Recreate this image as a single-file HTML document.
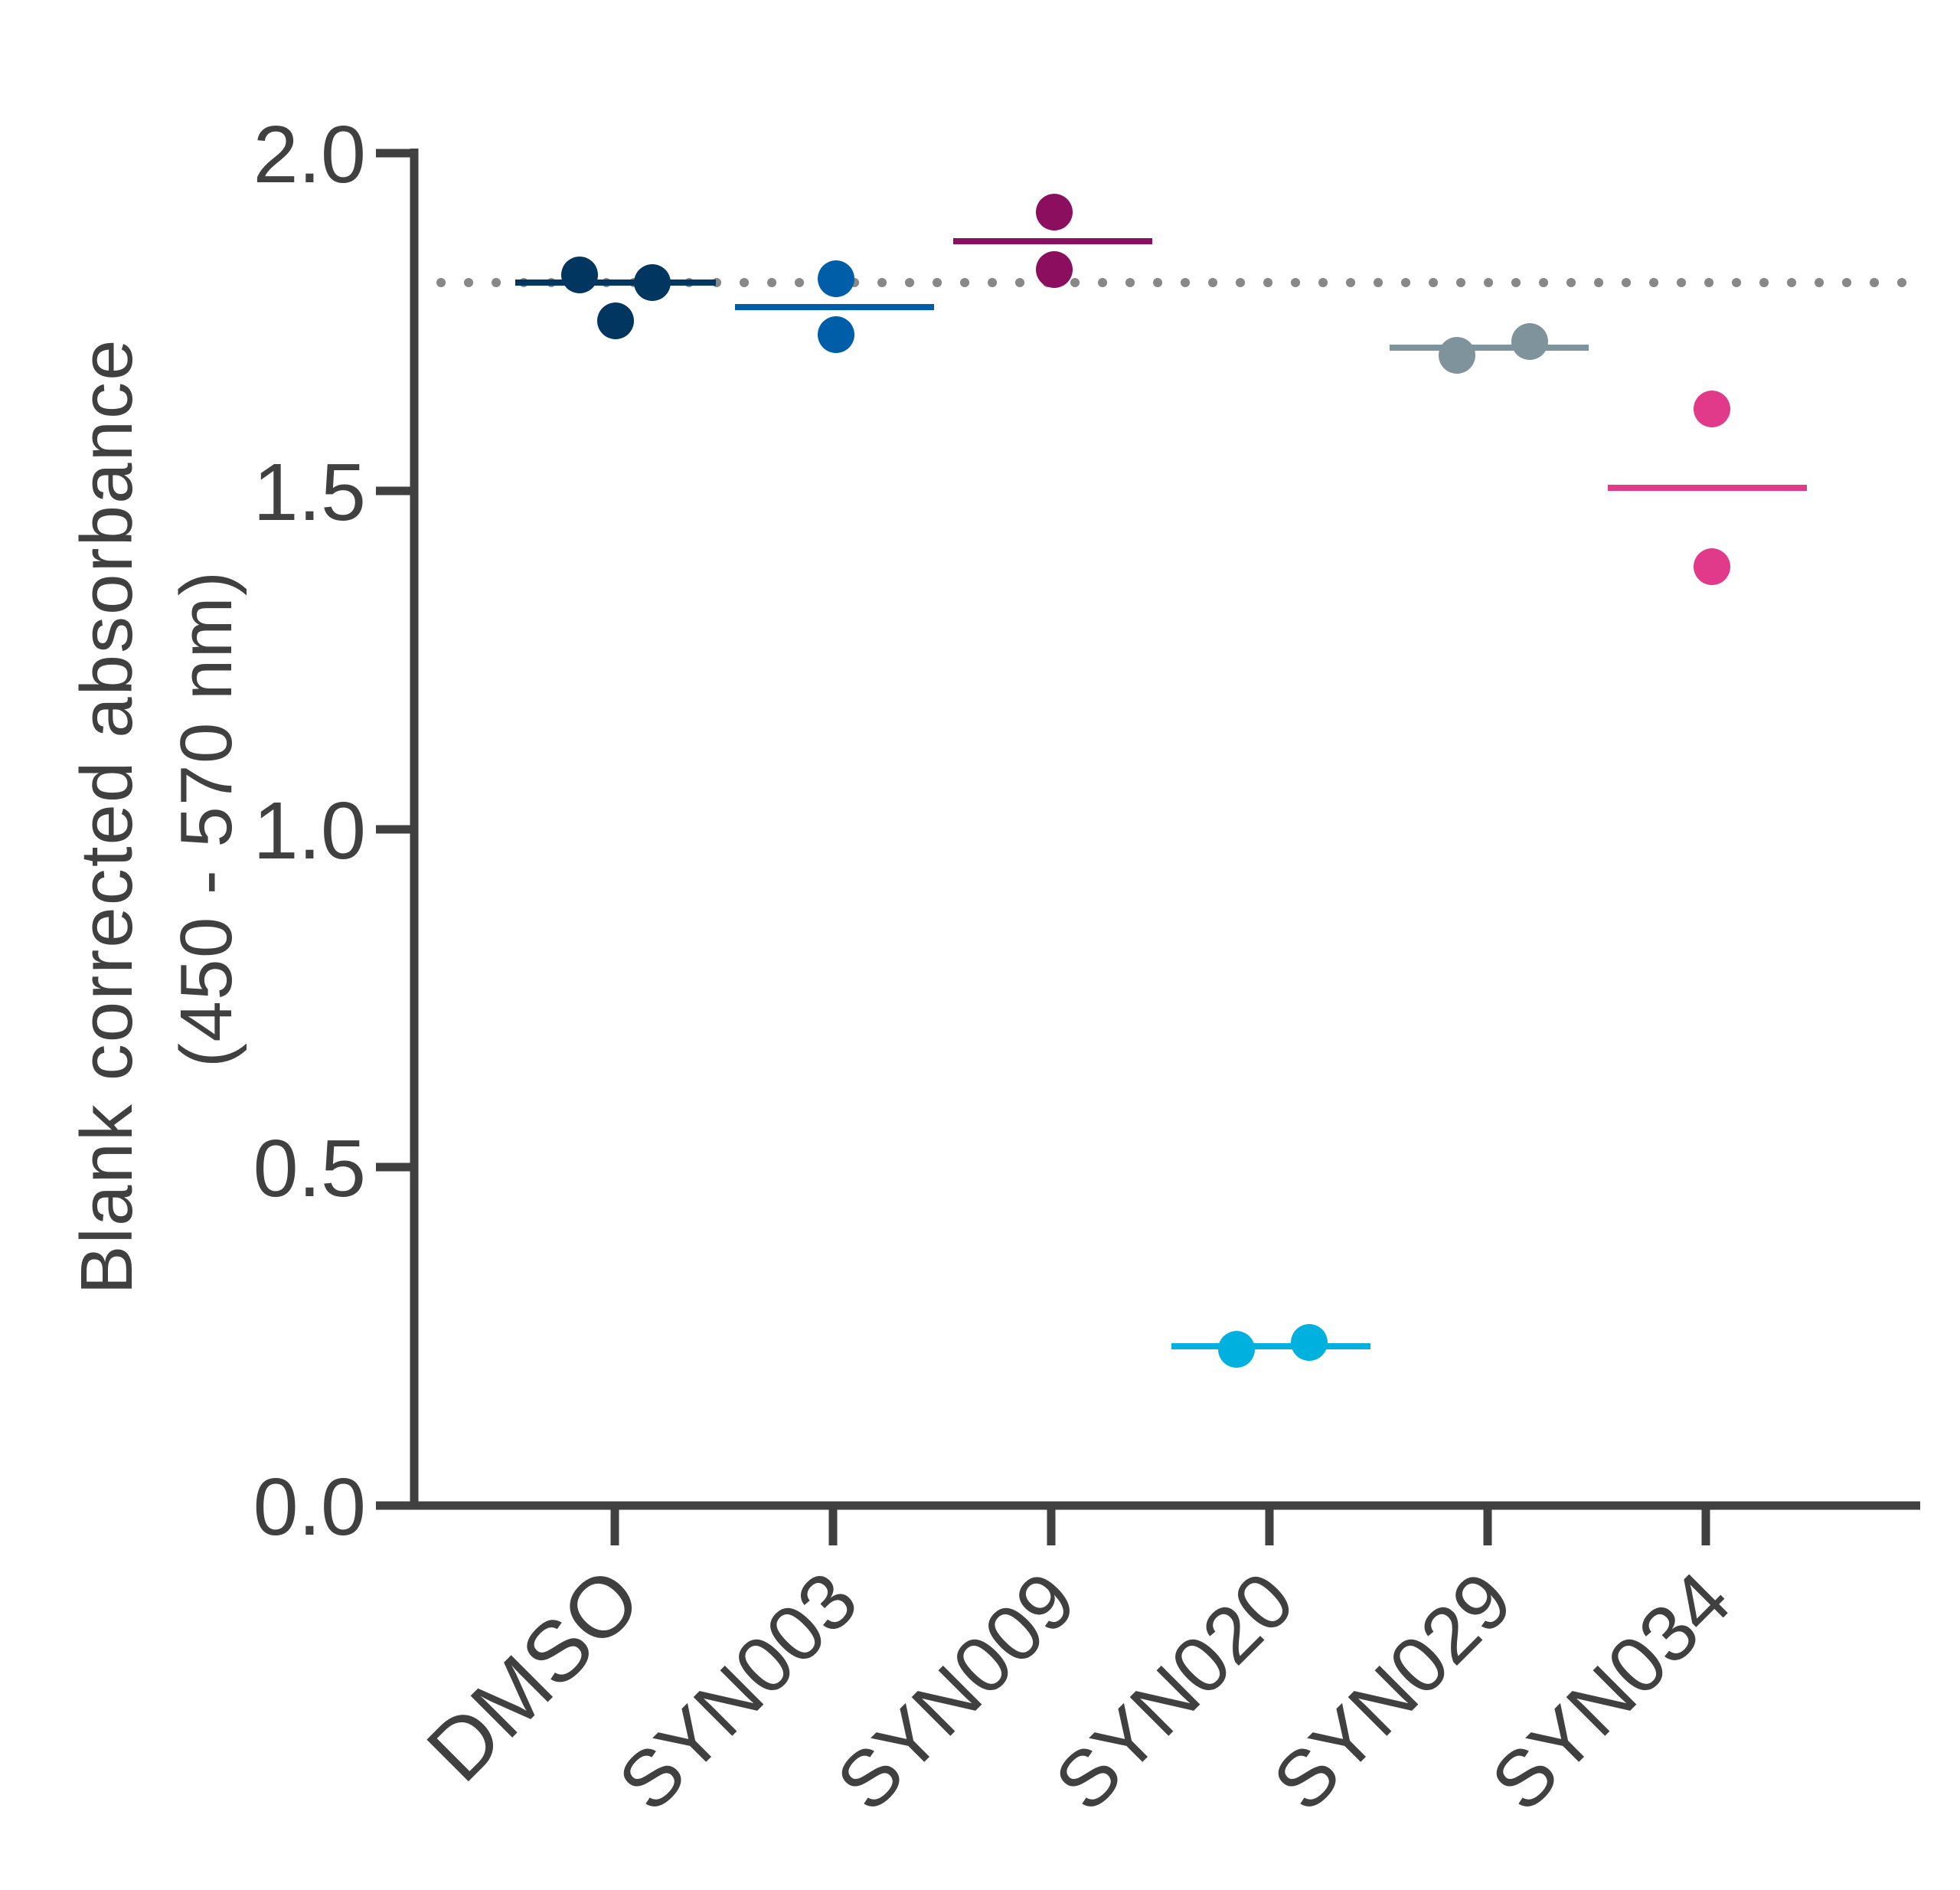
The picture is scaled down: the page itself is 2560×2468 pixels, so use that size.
<!DOCTYPE html>
<html><head><meta charset="utf-8"><style>html,body{margin:0;padding:0;background:#fff}svg{display:block}</style></head>
<body>
<svg width="2560" height="2468" viewBox="0 0 2560 2468" xmlns="http://www.w3.org/2000/svg" font-family="Liberation Sans, sans-serif" fill="#404040">
<!-- dotted reference line -->
<line x1="576" y1="369" x2="2506" y2="369" stroke="#888" stroke-width="12" stroke-linecap="round" stroke-dasharray="0.1 35.9"/>
<!-- axes -->
<path d="M541 194 V1966 H2508" fill="none" stroke="#404040" stroke-width="11"/>
<g stroke="#404040" stroke-width="11">
<line x1="491" y1="200" x2="541" y2="200"/>
<line x1="491" y1="641" x2="541" y2="641"/>
<line x1="491" y1="1083" x2="541" y2="1083"/>
<line x1="491" y1="1524" x2="541" y2="1524"/>
<line x1="491" y1="1966" x2="541" y2="1966"/>
<line x1="803" y1="1966" x2="803" y2="2018"/>
<line x1="1088" y1="1966" x2="1088" y2="2018"/>
<line x1="1373" y1="1966" x2="1373" y2="2018"/>
<line x1="1658" y1="1966" x2="1658" y2="2018"/>
<line x1="1943" y1="1966" x2="1943" y2="2018"/>
<line x1="2228" y1="1966" x2="2228" y2="2018"/>
</g>
<g font-size="106" text-anchor="end">
<text x="478" y="238">2.0</text>
<text x="478" y="679">1.5</text>
<text x="478" y="1121">1.0</text>
<text x="478" y="1562">0.5</text>
<text x="478" y="2004">0.0</text>
</g>
<g font-size="96" text-anchor="middle">
<text transform="translate(172,1067) rotate(-90)" textLength="1247">Blank corrected absorbance</text>
<text transform="translate(302,1070) rotate(-90)" textLength="648">(450 - 570 nm)</text>
</g>
<g font-size="104" text-anchor="end">
<text transform="translate(843,2095) rotate(-45)" font-size="112">DMSO</text>
<text transform="translate(1126,2097) rotate(-45)">SYN003</text>
<text transform="translate(1411,2097) rotate(-45)">SYN009</text>
<text transform="translate(1696,2097) rotate(-45)">SYN020</text>
<text transform="translate(1981,2097) rotate(-45)">SYN029</text>
<text transform="translate(2266,2097) rotate(-45)">SYN034</text>
</g>
<!-- series -->
<g stroke-width="8">
<line x1="673" y1="369" x2="935" y2="369" stroke="#003660"/>
<line x1="960" y1="401" x2="1220" y2="401" stroke="#005EA8"/>
<line x1="1245" y1="315" x2="1505" y2="315" stroke="#8B0F5E"/>
<line x1="1530" y1="1758" x2="1790" y2="1758" stroke="#00B1E0"/>
<line x1="1815" y1="454" x2="2075" y2="454" stroke="#7F939C"/>
<line x1="2100" y1="637" x2="2360" y2="637" stroke="#E23A8A"/>
</g>
<g>
<circle cx="757" cy="359" r="24" fill="#003660"/>
<circle cx="852" cy="369" r="24" fill="#003660"/>
<circle cx="804" cy="419" r="24" fill="#003660"/>
<circle cx="1092" cy="364" r="24" fill="#005EA8"/>
<circle cx="1092" cy="437" r="24" fill="#005EA8"/>
<circle cx="1377" cy="277" r="24" fill="#8B0F5E"/>
<circle cx="1377" cy="352" r="24" fill="#8B0F5E"/>
<circle cx="1615" cy="1762" r="24" fill="#00B1E0"/>
<circle cx="1710" cy="1753" r="24" fill="#00B1E0"/>
<circle cx="1903" cy="464" r="24" fill="#7F939C"/>
<circle cx="1998" cy="446" r="24" fill="#7F939C"/>
<circle cx="2236" cy="534" r="24" fill="#E23A8A"/>
<circle cx="2236" cy="740" r="24" fill="#E23A8A"/>
</g>
</svg>
</body></html>
